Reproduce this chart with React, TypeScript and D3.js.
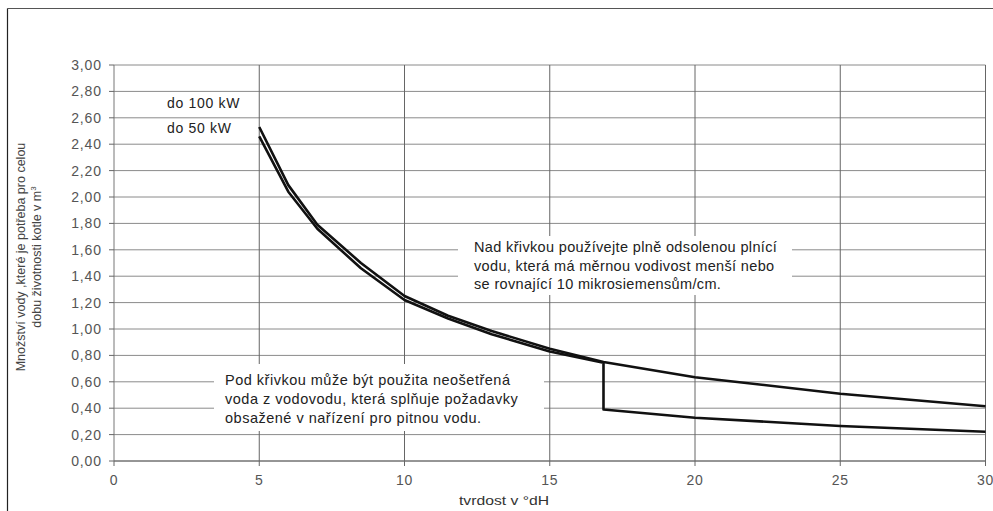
import React from "react";
import * as d3 from "d3";

const xTicks = [0, 5, 10, 15, 20, 25, 30];
const yTicks = [0, 0.2, 0.4, 0.6, 0.8, 1.0, 1.2, 1.4, 1.6, 1.8, 2.0, 2.2, 2.4, 2.6, 2.8, 3.0];

const hardness100 = [5, 6, 7, 8.5, 10, 11.5, 13, 15, 16.85, 20, 25, 30];
const volume100 = [2.53, 2.09, 1.79, 1.5, 1.25, 1.1, 0.985, 0.85, 0.75, 0.635, 0.51, 0.415];
const hardness50 = [5, 6, 7, 8.5, 10, 11.5, 13, 15, 16.85, 16.85, 20, 25, 30];
const volume50 = [2.46, 2.04, 1.76, 1.46, 1.22, 1.08, 0.96, 0.83, 0.745, 0.39, 0.328, 0.265, 0.222];

const seriesLabels = ["do 100 kW", "do 50 kW"];
const yTitle = ["Množství vody ,které je potřeba pro celou", "dobu životnosti kotle v m"];
const xTitle = "tvrdost v °dH";
const noteAbove = [
  "Nad křivkou používejte plně odsolenou plnící",
  "vodu, která má měrnou vodivost menší nebo",
  "se rovnající 10 mikrosiemensům/cm.",
];
const noteBelow = [
  "Pod křivkou může být použita neošetřená",
  "voda z vodovodu, která splňuje požadavky",
  "obsažené v nařízení pro pitnou vodu.",
];

export default function App() {
  const W = 993, H = 511;
  const x = d3.scaleLinear().domain([0, 30]).range([114, 985.5]);
  const y = d3.scaleLinear().domain([0, 3]).range([461, 65]);
  const line = d3
    .line<[number, number]>()
    .x((d) => x(d[0]))
    .y((d) => y(d[1]))
    .curve(d3.curveLinear);
  const pts100 = hardness100.map((h, i) => [h, volume100[i]] as [number, number]);
  const pts50 = hardness50.map((h, i) => [h, volume50[i]] as [number, number]);
  const font = "'Liberation Sans', Arial, sans-serif";
  const grid = "#8a8a8a";

  return (
    <svg
      width={W}
      height={H}
      style={{ position: "absolute", left: 0, top: 0, background: "#fff" }}
      fontFamily={font}
    >
      <rect x={0} y={0} width={W} height={H} fill="#fff" />
      {/* outer frame */}
      <line x1={7.5} x2={W} y1={8.5} y2={8.5} stroke="#555" strokeWidth={1} />
      <line x1={7.5} x2={7.5} y1={8.5} y2={H} stroke="#222" strokeWidth={1.2} />

      {/* grid */}
      {yTicks.map((t) => (
        <line key={"gy" + t} x1={x(0)} x2={x(30)} y1={y(t)} y2={y(t)} stroke={grid} strokeWidth={1} />
      ))}
      {xTicks.map((t) => (
        <line key={"gx" + t} x1={x(t)} x2={x(t)} y1={y(3)} y2={y(0)} stroke={t === 0 ? "#777" : "#666"} strokeWidth={1} />
      ))}

      {/* axis ticks */}
      {yTicks.map((t) => (
        <line key={"ty" + t} x1={x(0) - 5} x2={x(0)} y1={y(t)} y2={y(t)} stroke="#666" />
      ))}
      {xTicks.map((t) => (
        <line key={"tx" + t} x1={x(t)} x2={x(t)} y1={y(0)} y2={y(0) + 5} stroke="#666" />
      ))}
      <line x1={x(0)} x2={x(30)} y1={y(0)} y2={y(0)} stroke="#666" />

      {/* y tick labels */}
      {yTicks.map((t) => (
        <text key={"ly" + t} x={102} y={y(t)} dy="0.36em" textAnchor="end" fontSize={14} letterSpacing={0.9} fill="#555">
          {t.toFixed(2).replace(".", ",")}
        </text>
      ))}
      {/* x tick labels */}
      {xTicks.map((t) => (
        <text key={"lx" + t} x={x(t)} y={485} textAnchor="middle" fontSize={14} letterSpacing={0.6} fill="#555">
          {t}
        </text>
      ))}
      <text x={504} y={505} textAnchor="middle" fontSize={13} fill="#333" textLength={90} lengthAdjust="spacingAndGlyphs">
        {xTitle}
      </text>

      {/* y title */}
      <g transform="translate(25,257) rotate(-90)">
        <text x={0} y={0} textAnchor="middle" fontSize={12.5} fill="#444">
          {yTitle[0]}
        </text>
        <text x={0} y={16} textAnchor="middle" fontSize={12.5} fill="#444">
          {yTitle[1]}
          <tspan dy={-5} fontSize={8}>3</tspan>
        </text>
      </g>

      {/* annotation boxes */}
      <rect x={458} y={236} width={334} height={59} fill="#fff" />
      {noteAbove.map((s, i) => (
        <text key={"na" + i} x={474} y={252 + i * 18.5} fontSize={14.5} letterSpacing={0.35} fill="#222">
          {s}
        </text>
      ))}
      <rect x={214} y={364} width={330} height={67} fill="#fff" />
      {noteBelow.map((s, i) => (
        <text key={"nb" + i} x={225} y={385 + i * 19} fontSize={14.5} letterSpacing={0.5} fill="#222">
          {s}
        </text>
      ))}

      {/* series labels */}
      <text x={167} y={108} fontSize={14} letterSpacing={0.7} fill="#222">{seriesLabels[0]}</text>
      <text x={167} y={133} fontSize={14} letterSpacing={0.7} fill="#222">{seriesLabels[1]}</text>

      {/* curves */}
      <path d={line(pts100) || ""} fill="none" stroke="#111" strokeWidth={2.6} strokeLinejoin="round" />
      <path d={line(pts50) || ""} fill="none" stroke="#111" strokeWidth={2.6} strokeLinejoin="round" />
    </svg>
  );
}
